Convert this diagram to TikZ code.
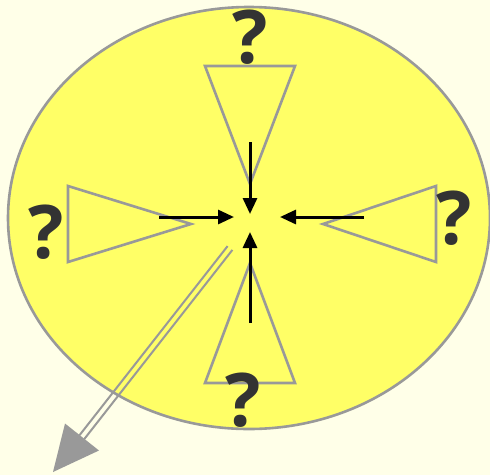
\documentclass[tikz,border=0pt]{standalone}
\usepackage{fontspec}
\setsansfont{Open Sans}
\usetikzlibrary{arrows.meta}

\definecolor{paper}{HTML}{FFFFE8}
\definecolor{lens}{HTML}{FFFF66}
\definecolor{rim}{HTML}{999999}
\definecolor{ink}{HTML}{333333}

\tikzset{
  rimline/.style={draw=rim,line width=2.6pt,line join=miter},
  query/.style={inner sep=0pt,text=ink,font=\sffamily\bfseries\fontsize{74}{76}\selectfont},
  push/.style={-{Triangle[length=16pt,width=14pt]},line width=3pt,black},
}

\begin{document}
\begin{tikzpicture}[x=1pt,y=-1pt]

  % ---- canvas ------------------------------------------------------------
  \fill[paper] (0,0) rectangle (490,475);
  \useasboundingbox (0,0) rectangle (490,475);

  % ---- yellow ellipse -----------------------------------------------------
  \draw[rimline,fill=lens] (249,218) ellipse[x radius=241,y radius=211];

  % ---- four triangles pointing to the middle -----------------------------
  \draw[rimline] (205,66) -- (295,66) -- (250,184) -- cycle;   % top
  \draw[rimline] (205,383) -- (295,383) -- (250,263) -- cycle; % bottom
  \draw[rimline] (68,186) -- (68,262) -- (191,224) -- cycle;   % left
  \draw[rimline] (436,186) -- (436,262) -- (323,224) -- cycle; % right

  % ---- question marks -----------------------------------------------------
  \node[query] (qtop)   at (250,37)  {?};
  \node[query] (qleft)  at (46,232)  {?};
  \node[query] (qright) at (454,218) {?};
  \node[query] (qbot)   at (243,400) {?};

  % ---- black arrows into the centre --------------------------------------
  \coordinate (tS) at (250,142);  \coordinate (tE) at (250,214);
  \coordinate (bS) at (250,323);  \coordinate (bE) at (250,232);
  \coordinate (lS) at (159,217);  \coordinate (lE) at (234,217);
  \coordinate (rS) at (364,217);  \coordinate (rE) at (280,217);
  \draw[push] (tS) -- (tE);
  \draw[push] (bS) -- (bE);
  \draw[push] (lS) -- (lE);
  \draw[push] (rS) -- (rE);

  % ---- grey double arrow out of the ellipse ------------------------------
  \coordinate (oS) at (230,248);
  \coordinate (oB) at (82,437);
  \coordinate (oT) at (53,472);
  \draw[rim,line width=2pt] ([shift={(2.4,1.9)}]oS) -- ([shift={(2.4,1.9)}]oB);
  \draw[rim,line width=2pt] ([shift={(-2.4,-1.9)}]oS) -- ([shift={(-2.4,-1.9)}]oB);
  \fill[rim] (oT) -- ([shift={(17,13.5)}]oB) -- ([shift={(-17,-13.5)}]oB) -- cycle;

\end{tikzpicture}
\end{document}
